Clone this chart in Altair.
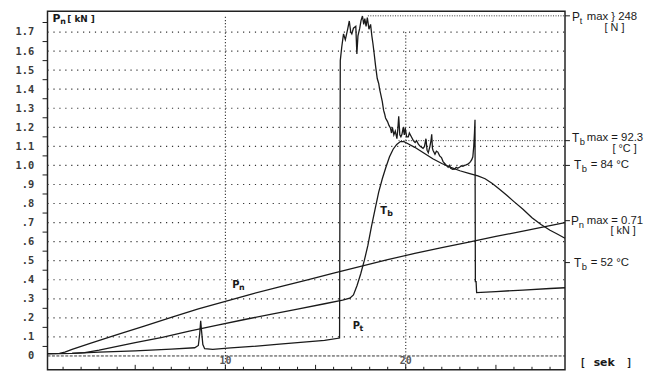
import altair as alt
import pandas as pd

# ---------------- data ----------------
# time axis in seconds, values in the left-axis units
pn_t = [0.14, 0.8, 1.1, 1.5, 2.5, 4.0, 5.5, 7.0, 8.5, 10.0, 11.5, 13.0, 14.5, 16.0,
        17.5, 19.0, 20.5, 22.0, 23.5, 25.0, 26.5, 28.0, 28.83]
pn_v = [0.012, 0.013, 0.02, 0.035, 0.066, 0.112, 0.157, 0.202, 0.247, 0.287, 0.326,
        0.362, 0.398, 0.435, 0.470, 0.505, 0.538, 0.568, 0.598, 0.627, 0.655, 0.684, 0.700]

tb_t = [0.14, 1.5, 2.2, 3.0, 4.0, 5.0, 6.5, 8.0, 9.5, 11.0, 12.5, 14.0, 15.5, 16.5, 16.9,
        17.1, 17.3, 17.5, 17.7, 17.9, 18.1, 18.3, 18.5, 18.7, 18.9, 19.1, 19.3, 19.5, 19.7,
        19.9, 20.1, 20.5, 21.0, 21.5, 22.0, 22.5, 23.0, 23.5, 24.0, 24.4, 24.8, 25.2, 25.6,
        26.0, 26.5, 27.0, 27.5, 28.0, 28.4, 28.83]
tb_v = [0.012, 0.013, 0.018, 0.03, 0.05, 0.07, 0.098, 0.13, 0.16, 0.19, 0.218, 0.246, 0.274,
        0.293, 0.303, 0.32, 0.37, 0.43, 0.50, 0.58, 0.68, 0.77, 0.86, 0.93, 0.99, 1.045, 1.085,
        1.11, 1.125, 1.125, 1.115, 1.095, 1.065, 1.035, 1.01, 0.99, 0.972, 0.958, 0.945, 0.93,
        0.905, 0.875, 0.843, 0.81, 0.77, 0.725, 0.69, 0.66, 0.64, 0.618]

pt_t = [0.14, 1.5, 3.0, 5.0, 7.0, 8.3, 8.5, 8.58, 8.63, 8.68, 8.75, 8.85, 9.3, 10.3, 11.5,
        13.0, 14.5, 15.5, 16.33, 16.37, 16.45, 16.55, 16.65, 16.78, 16.87, 16.95, 17.01, 17.1,
        17.23, 17.29, 17.35, 17.45, 17.52, 17.6, 17.67, 17.73, 17.8, 17.87, 17.96, 18.05, 18.12,
        18.18, 18.24, 18.33, 18.42, 18.5, 18.55, 18.62, 18.7, 18.77, 18.83, 18.88, 18.99, 19.07,
        19.15, 19.21, 19.26, 19.34, 19.42, 19.51, 19.56, 19.61, 19.67, 19.73, 19.79, 19.86, 19.92,
        19.97, 20.05, 20.14, 20.2, 20.34, 20.42, 20.52, 20.6, 20.7, 20.8, 20.96, 21.04, 21.12,
        21.18, 21.25, 21.34, 21.4, 21.44, 21.48, 21.51, 21.62, 21.7, 21.78, 21.88, 21.98, 22.07,
        22.16, 22.25, 22.35, 22.42, 22.49, 22.6, 22.71, 22.8, 22.88, 23.0, 23.08, 23.17, 23.26,
        23.35, 23.44, 23.52, 23.59, 23.66, 23.72, 23.77, 23.81, 23.84, 23.86, 23.9, 23.93, 25.0,
        26.5, 28.0, 28.83]
pt_v = [0.012, 0.014, 0.02, 0.027, 0.036, 0.043, 0.055, 0.12, 0.185, 0.13, 0.06, 0.038, 0.035,
        0.042, 0.05, 0.062, 0.074, 0.082, 0.094, 1.55, 1.62, 1.69, 1.66, 1.715, 1.758, 1.70, 1.69,
        1.72, 1.73, 1.585, 1.68, 1.72, 1.76, 1.784, 1.74, 1.77, 1.73, 1.776, 1.715, 1.74, 1.68,
        1.64, 1.594, 1.52, 1.456, 1.43, 1.40, 1.37, 1.335, 1.29, 1.27, 1.249, 1.23, 1.21, 1.197,
        1.17, 1.20, 1.16, 1.18, 1.14, 1.19, 1.258, 1.16, 1.15, 1.163, 1.20, 1.16, 1.197, 1.15,
        1.15, 1.17, 1.145, 1.13, 1.12, 1.13, 1.111, 1.10, 1.09, 1.10, 1.14, 1.08, 1.067, 1.10,
        1.13, 1.163, 1.09, 1.08, 1.059, 1.075, 1.07, 1.05, 1.041, 1.02, 1.01, 1.00, 0.99, 1.00,
        0.985, 0.98, 0.981, 0.99, 0.985, 0.992, 0.998, 0.995, 1.0, 1.003, 1.007, 1.012, 1.02,
        1.03, 1.045, 1.10, 1.17, 1.24, 0.39, 0.39, 0.332, 0.338, 0.346, 0.354, 0.358]

y_label_values = [0.0, 0.1, 0.2, 0.3, 0.4, 0.5, 0.6, 0.7, 0.8, 0.9, 1.0, 1.1, 1.2, 1.3, 1.4,
                  1.5, 1.6, 1.7]
grid_values = [0.1, 0.2, 0.3, 0.4, 0.5, 0.6, 0.7, 0.8, 0.9, 1.0, 1.1, 1.2, 1.3, 1.4, 1.5,
               1.6, 1.7]
y_minor_ticks = [0.05, 0.15, 0.25, 0.35, 0.45, 0.55, 0.65, 0.75, 0.85, 0.95, 1.05, 1.15,
                 1.25, 1.35, 1.45, 1.55, 1.65, 1.75]
x_minor_ticks = [1, 2, 3, 4, 6, 7, 8, 9, 11, 12, 13, 14, 16, 17, 18, 19, 21, 22, 23, 24,
                 26, 27, 28]
x_major_ticks = [5, 10, 15, 20, 25]
x_labels = ["10", "20"]
x_label_pos = [10, 20]

pt_max_level = 1.785
tb_max_level = 1.13
right_marks = [1.785, 1.13, 1.0, 0.71, 0.49]

# ---------------- layout ----------------
W, H = 524, 363
XDOM = [0.137, 28.83]
YDOM = [-0.0725, 1.809]
INK = "#1a1a1a"

xs = alt.Scale(domain=XDOM, nice=False, zero=False)
ys = alt.Scale(domain=YDOM, nice=False, zero=False)

label_expr = ("datum.value == 0 ? '0\u00a0\u00a0' : (datum.value < 0.95 ? '.' + format(datum.value * 10, '.0f')"
              " : format(datum.value, '.1f'))")
Y = alt.Y("v:Q", scale=ys, title=None,
          axis=alt.Axis(values=y_label_values, ticks=False, grid=False, domain=False,
                        labelExpr=label_expr, labelFont="DejaVu Sans Mono", labelFontSize=10.5,
                        labelFontWeight="bold", labelColor="#3a3a3a", labelPadding=14,
                        labelOverlap=False))
X = alt.X("t:Q", scale=xs, axis=None)

rows = []
for name, ts, vs in [("Pn", pn_t, pn_v), ("Tb", tb_t, tb_v), ("Pt", pt_t, pt_v)]:
    for i, (t, v) in enumerate(zip(ts, vs)):
        rows.append({"series": name, "t": t, "v": v, "i": i})
curves = pd.DataFrame(rows)

layers = []

# horizontal dotted grid
layers.append(alt.Chart(pd.DataFrame({"v": grid_values})).mark_rule(
    stroke="#333", strokeWidth=1.2, strokeDash=[1.2, 4.8]).encode(
    y=Y, x=alt.value(0), x2=alt.value(W)))
# zero line (dashed)
layers.append(alt.Chart(pd.DataFrame({"v": [0.0]})).mark_rule(
    stroke="#333", strokeWidth=1, strokeDash=[3, 1.5]).encode(
    y=Y, x=alt.value(0), x2=alt.value(W)))
# vertical dotted lines at 10 and 20
layers.append(alt.Chart(pd.DataFrame({"t": [10, 20], "v": [1.78, 1.7]})).mark_rule(
    stroke="#333", strokeWidth=1.1, strokeDash=[1.2, 2]).encode(
    x=X, y=Y, y2=alt.value(H)))
# max level lines
layers.append(alt.Chart(pd.DataFrame({"t": [17.9, 19.6], "v": [pt_max_level, tb_max_level]})).mark_rule(
    stroke="#333", strokeWidth=1, strokeDash=[1, 1.5]).encode(
    x=X, x2=alt.value(W), y=Y))
# right-side marks
layers.append(alt.Chart(pd.DataFrame({"v": right_marks})).mark_rule(
    stroke=INK, strokeWidth=1).encode(
    y=Y, x=alt.value(W), x2=alt.value(W + 5)))
# y minor ticks (outside, left)
layers.append(alt.Chart(pd.DataFrame({"v": y_minor_ticks})).mark_rule(
    stroke=INK, strokeWidth=1).encode(
    y=Y, x=alt.value(-5), x2=alt.value(0)))
# x ticks (inside, upward)
layers.append(alt.Chart(pd.DataFrame({"t": x_minor_ticks})).mark_rule(
    stroke=INK, strokeWidth=1).encode(
    x=X, y=alt.value(H), y2=alt.value(H - 3)))
layers.append(alt.Chart(pd.DataFrame({"t": x_major_ticks})).mark_rule(
    stroke=INK, strokeWidth=1).encode(
    x=X, y=alt.value(H), y2=alt.value(H - 5)))

# curves
layers.append(alt.Chart(curves).mark_line(stroke=INK, strokeWidth=1.3, interpolate="linear").encode(
    x=X, y=Y, detail="series:N", order="i:Q"))

# x labels inside plot
layers.append(alt.Chart(pd.DataFrame({"t": x_label_pos, "lab": x_labels, "v": [-0.028, -0.028]})).mark_text(
    font="DejaVu Sans Mono", fontSize=10, fontWeight="bold", color="#555", baseline="middle",
    align="center").encode(x=X, y=Y, text="lab:N"))

# text annotations, positioned in page pixels -> view pixels
ORIGIN_X, ORIGIN_Y = 48, 9
SANS = "Liberation Sans"
annots = [
    # text, page_x, page_y, size, weight, font
    ("P", 53, 17, 11, "bold", "DejaVu Sans"),
    ("n", 61, 20, 8, "bold", "DejaVu Sans"),
    ("[ kN ]", 68, 17, 9, "bold", "DejaVu Sans"),
    ("P", 235, 286, 10, "bold", "DejaVu Sans"),
    ("n", 242, 289, 8, "bold", "DejaVu Sans"),
    ("T", 385, 211, 10, "bold", "DejaVu Sans"),
    ("b", 392, 214, 8, "bold", "DejaVu Sans"),
    ("P", 357, 328, 10, "bold", "DejaVu Sans"),
    ("t", 364, 331, 8, "bold", "DejaVu Sans"),
    ("[", 587, 365, 10, "bold", "DejaVu Sans Mono"),
    ("sek", 601, 365, 11, "bold", "DejaVu Sans"),
    ("]", 634, 365, 10, "bold", "DejaVu Sans Mono"),
    ("P", 579, 15, 12, "normal", SANS),
    ("t", 587, 19, 9, "normal", SANS),
    ("max } 248", 594, 15, 11.5, "normal", SANS),
    ("[ N ]", 612, 26, 11, "normal", SANS),
    ("T", 579, 137, 12, "normal", SANS),
    ("b", 587, 141, 9.5, "normal", SANS),
    ("max = 92.3", 594, 137, 11.5, "normal", SANS),
    ("[ \u00b0C ]", 620, 148, 11, "normal", SANS),
    ("T", 581, 165, 12, "normal", SANS),
    ("b", 589, 169, 9.5, "normal", SANS),
    ("= 84 \u00b0C", 598, 165, 11.5, "normal", SANS),
    ("P", 578, 221, 12, "normal", SANS),
    ("n", 586, 225, 9.5, "normal", SANS),
    ("max = 0.71", 594, 221, 11.5, "normal", SANS),
    ("[ kN ]", 618, 232, 11, "normal", SANS),
    ("T", 581, 264, 12, "normal", SANS),
    ("b", 589, 268, 9.5, "normal", SANS),
    ("= 52 \u00b0C", 598, 264, 11.5, "normal", SANS),
]
one = pd.DataFrame({"k": [0]})
for txt, px, py, size, weight, font in annots:
    layers.append(alt.Chart(one).mark_text(
        text=txt, font=font, fontSize=size, fontWeight=weight, color=INK,
        align="left", baseline="middle").encode(
        x=alt.value(px - ORIGIN_X), y=alt.value(py - ORIGIN_Y)))

chart = alt.layer(*layers).properties(
    width=W, height=H,
    autosize=alt.AutoSizeParams(type="none"),
    padding={"left": 40, "top": 1, "right": 81, "bottom": 4},
    background="white",
).configure_view(stroke="#222", strokeWidth=1.5)

chart.save("out.html", embed_options={"renderer": "svg", "actions": False})
